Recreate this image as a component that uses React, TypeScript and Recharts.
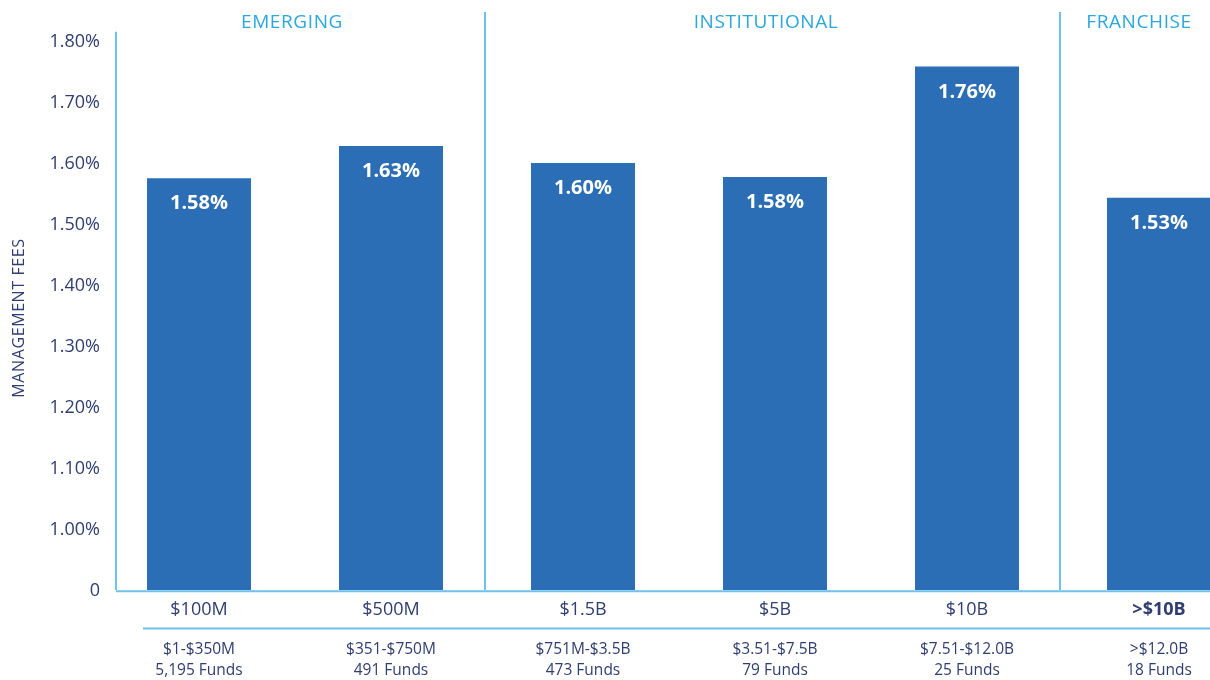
import { BarChart, Bar, XAxis, YAxis, ReferenceLine, LabelList, Label } from "recharts";

const categories = ["$100M", "$500M", "$1.5B", "$5B", "$10B", ">$10B"];
const sizeRanges = ["$1-$350M", "$351-$750M", "$751M-$3.5B", "$3.51-$7.5B", "$7.51-$12.0B", ">$12.0B"];
const fundCounts = ["5,195 Funds", "491 Funds", "473 Funds", "79 Funds", "25 Funds", "18 Funds"];
// bar heights as drawn, and the printed labels
const managementFees = [1.575, 1.628, 1.6, 1.577, 1.758, 1.543];
const feeLabels = ["1.58%", "1.63%", "1.60%", "1.58%", "1.76%", "1.53%"];
const yTicks = [0.9, 1.0, 1.1, 1.2, 1.3, 1.4, 1.5, 1.6, 1.7, 1.8];
const yTickLabels = ["0", "1.00%", "1.10%", "1.20%", "1.30%", "1.40%", "1.50%", "1.60%", "1.70%", "1.80%"];
const groupNames = ["EMERGING", "INSTITUTIONAL", "FRANCHISE"];
const groupFirst = ["$100M", "$1.5B", ">$10B"];
const groupLast = ["$500M", "$10B", ">$10B"];

// small pixel nudges for decoration
const groupShift = [-3, -9, -20];

const NAVY = "#2f3d70";
const BLUE = "#2b6eb5";
const LINE = "#6cc2ea";
const HEAD = "#2aa7df";
const FONT = "'Open Sans', sans-serif";

const data = categories.map((name, i) => ({
  name,
  fee: managementFees[i],
  label: feeLabels[i],
}));

const lineShape = (dx1: number, dx2: number) => (p: any) => (
  <line x1={p.x1 + dx1} y1={p.y1} x2={p.x2 + dx2} y2={p.y2} stroke={LINE} strokeWidth={2} />
);

const CategoryTick = (props: any) => {
  const { x, y, payload } = props;
  const i = categories.indexOf(payload.value);
  const bold = payload.value.startsWith(">");
  return (
    <g>
      <text x={x} y={y + 25} textAnchor="middle" fill={NAVY} fontSize={18} fontWeight={bold ? 700 : 400} fontFamily={FONT}>
        {payload.value}
      </text>
      <text x={x} y={y + 64} textAnchor="middle" fill={NAVY} fontSize={15.5} fontFamily={FONT}>
        {sizeRanges[i]}
      </text>
      <text x={x} y={y + 85} textAnchor="middle" fill={NAVY} fontSize={15.5} fontFamily={FONT}>
        {fundCounts[i]}
      </text>
    </g>
  );
};

const YTitle = (props: any) => {
  const { viewBox } = props;
  const cx = 10;
  const cy = viewBox.y + viewBox.height / 2 + 17;
  return (
    <text x={cx} y={cy} transform={`rotate(-90, ${cx}, ${cy})`} textAnchor="middle" dominantBaseline="central" fill={NAVY} fontSize={16} letterSpacing={0.6} fontFamily={FONT}>
      MANAGEMENT FEES
    </text>
  );
};

const GroupTitle = (text: string, shift: number) => (props: any) => {
  const { viewBox } = props;
  return (
    <text
      x={viewBox.x + viewBox.width / 2 + shift}
      y={viewBox.y + viewBox.height / 2}
      textAnchor="middle"
      dominantBaseline="central"
      fill={HEAD}
      fontSize={19}
      letterSpacing={0.6}
      fontFamily={FONT}
    >
      {text}
    </text>
  );
};

export default function App() {
  return (
    <div style={{ position: "fixed", top: 8, left: 8, width: 1202, height: 672, overflow: "hidden" }}>
      <BarChart width={1247} height={672} data={data} margin={{ top: 4, right: 0, bottom: 0, left: 0 }}>
        <XAxis
          dataKey="name"
          axisLine={false}
          tickLine={false}
          tickSize={0}
          tickMargin={0}
          height={90}
          interval={0}
          tick={<CategoryTick />}
        />
        <YAxis
          domain={[0.9, 1.8475]}
          ticks={yTicks}
          allowDataOverflow
          width={95}
          axisLine={false}
          tickLine={false}
          tickSize={0}
          tickMargin={3}
          tickFormatter={(v: number) => yTickLabels[yTicks.indexOf(v)]}
          tick={{ fill: NAVY, fontSize: 18, fontFamily: FONT }}
        >
          <Label content={<YTitle />} />
        </YAxis>
        <Bar dataKey="fee" fill={BLUE} barSize={104} isAnimationActive={false}>
          <LabelList dataKey="label" position="insideTop" offset={17} fill="#ffffff" fontSize={20} fontWeight={700} fontFamily={FONT} />
        </Bar>
        {/* group dividers at band boundaries */}
        <ReferenceLine x="$1.5B" position="start" ifOverflow="visible" shape={lineShape(-2, -2)} />
        <ReferenceLine x=">$10B" position="start" ifOverflow="visible" shape={lineShape(-3, -3)} />
        {/* y axis line */}
        <ReferenceLine
          segment={[{ x: "$100M", y: 1.815 }, { x: "$100M", y: 0.9 }]}
          position="start"
          ifOverflow="visible"
          shape={lineShape(13, 13)}
        />
        {/* x axis line and the lower rule */}
        <ReferenceLine y={0.898} ifOverflow="visible" shape={lineShape(13, 0)} />
        <ReferenceLine y={0.837} ifOverflow="visible" shape={lineShape(40, 0)} />
        {groupNames.map((g, i) => (
          <ReferenceLine
            key={g}
            segment={[{ x: groupFirst[i], y: 1.833 }, { x: groupLast[i], y: 1.833 }]}
            stroke="none"
            ifOverflow="visible"
            label={{ content: GroupTitle(g, groupShift[i]) }}
          />
        ))}
      </BarChart>
    </div>
  );
}
